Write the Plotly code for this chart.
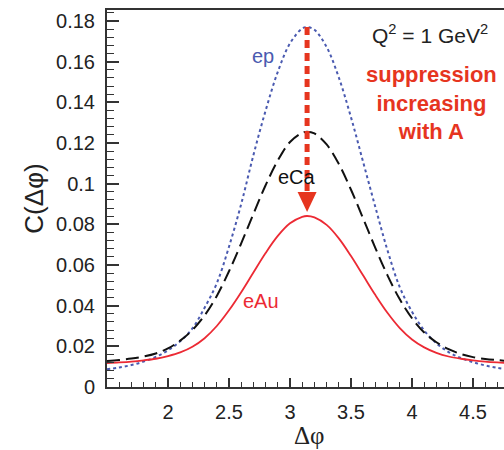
import plotly.graph_objects as go

# ---- data ----
dphi = [1.5, 1.6, 1.7, 1.8, 1.9, 2.0, 2.1, 2.2, 2.3, 2.4, 2.5, 2.6, 2.7, 2.8, 2.9, 3.0,
        3.1, 3.14, 3.2, 3.3, 3.4, 3.5, 3.6, 3.7, 3.8, 3.9, 4.0, 4.1, 4.2, 4.3, 4.4, 4.5,
        4.6, 4.7, 4.8]
c_ep = [0.0087, 0.0096, 0.0108, 0.0125, 0.0148, 0.0180, 0.0225, 0.0288, 0.0390, 0.0510,
        0.0690, 0.0900, 0.1140, 0.1359, 0.1550, 0.1690, 0.1763, 0.1770, 0.1757, 0.1672,
        0.1522, 0.1326, 0.1105, 0.0884, 0.0670, 0.0490, 0.0370, 0.0278, 0.0215, 0.0172,
        0.0143, 0.0122, 0.0106, 0.0094, 0.0086]
c_eca = [0.0128, 0.0133, 0.0140, 0.0150, 0.0165, 0.0190, 0.0228, 0.0280, 0.0352, 0.0448,
         0.0569, 0.0706, 0.0851, 0.0992, 0.1114, 0.1205, 0.1250, 0.1255, 0.1247, 0.1193,
         0.1097, 0.0970, 0.0828, 0.0683, 0.0548, 0.0431, 0.0338, 0.0268, 0.0220, 0.0186,
         0.0162, 0.0147, 0.0138, 0.0132, 0.0127]
c_eau = [0.0118, 0.0121, 0.0125, 0.0131, 0.0139, 0.0152, 0.0170, 0.0198, 0.0240, 0.0300,
         0.0377, 0.0466, 0.0563, 0.0659, 0.0743, 0.0805, 0.0837, 0.0841, 0.0834, 0.0797,
         0.0731, 0.0644, 0.0548, 0.0452, 0.0364, 0.0290, 0.0234, 0.0195, 0.0168, 0.0150,
         0.0139, 0.0131, 0.0125, 0.0121, 0.0118]

x_tickvals = [2, 2.5, 3, 3.5, 4, 4.5]
x_ticktext = ["2", "2.5", "3", "3.5", "4", "4.5"]
y_tickvals = [0, 0.02, 0.04, 0.06, 0.08, 0.1, 0.12, 0.14, 0.16, 0.18]
y_ticktext = ["0", "0.02", "0.04", "0.06", "0.08", "0.1", "0.12", "0.14", "0.16", "0.18"]

FONT = "Liberation Sans, Arial, sans-serif"
AX = "#333333"
BLUE = "#4a5ab0"
RED = "#ec2a34"
ARROW = "#e6351f"

fig = go.Figure()
fig.add_trace(go.Scatter(x=dphi, y=c_ep, mode="lines", name="ep",
                         line=dict(color=BLUE, width=2, dash="3px,3px", shape="spline")))
fig.add_trace(go.Scatter(x=dphi, y=c_eca, mode="lines", name="eCa",
                         line=dict(color="#111111", width=2, dash="13px,6px", shape="spline")))
fig.add_trace(go.Scatter(x=dphi, y=c_eau, mode="lines", name="eAu",
                         line=dict(color=RED, width=1.8, shape="spline")))

# arrow from ep peak down to the eAu peak
i_pk = c_ep.index(max(c_ep))
x_pk = dphi[i_pk]
y_top = max(c_ep)
y_tip = max(c_eau) + 0.002
fig.add_shape(type="line", x0=x_pk, x1=x_pk, y0=y_top, y1=y_tip + 0.008,
              line=dict(color=ARROW, width=5, dash="8px,5px"), layer="above")
fig.add_shape(type="path", xsizemode="pixel", ysizemode="pixel",
              xanchor=x_pk, yanchor=y_tip, path="M-9.5,20 L9.5,20 L0,0 Z",
              fillcolor=ARROW, line=dict(color=ARROW, width=0), layer="above")

ann = [
    dict(x=2.78, y=0.163, text="ep", font=dict(color=BLUE, size=20)),
    dict(x=3.057, y=0.1033, text="eCa", font=dict(color="#111111", size=20)),
    dict(x=2.762, y=0.0423, text="eAu", font=dict(color=RED, size=20)),
    dict(x=4.15, y=0.1735, text="Q<sup>2</sup> = 1 GeV<sup>2</sup>", font=dict(color="#222222", size=21)),
    dict(x=4.16, y=0.1397, text="<b>suppression<br>increasing<br>with A</b>",
         font=dict(color=ARROW, size=22)),
]
for a in ann:
    a.update(xref="x", yref="y", showarrow=False, xanchor="center", yanchor="middle")
    fig.add_annotation(**a)

fig.add_annotation(xref="paper", yref="paper", x=-0.186, y=0.5, text="C(Δφ)",
                   textangle=-90, showarrow=False, font=dict(size=26, color="#222222"),
                   xanchor="center", yanchor="middle")
fig.add_annotation(xref="paper", yref="paper", x=0.511, y=-0.128, text="Δφ",
                   showarrow=False, font=dict(size=25, color="#222222",
                                              family="Liberation Serif, Times New Roman, serif"),
                   xanchor="center", yanchor="middle")

fig.update_layout(
    width=504, height=450,
    margin=dict(l=107, r=0, t=10, b=63),
    plot_bgcolor="white", paper_bgcolor="white",
    showlegend=False,
    font=dict(family=FONT, size=20, color="#222222"),
)
fig.update_xaxes(range=[1.5, 4.754], showline=True, linecolor=AX, linewidth=2, mirror=True,
                 ticks="inside", ticklen=9, tickwidth=1.5, tickcolor=AX,
                 tickvals=x_tickvals, ticktext=x_ticktext, showgrid=False, zeroline=False,
                 ticklabelstandoff=6,
                 minor=dict(dtick=0.1, tick0=1.5, ticks="inside", ticklen=5, tickcolor=AX,
                            tickwidth=1, showgrid=False))
fig.update_yaxes(range=[0, 0.1854], showline=True, linecolor=AX, linewidth=2, mirror=False,
                 ticks="inside", ticklen=12, tickwidth=1.5, tickcolor=AX,
                 tickvals=y_tickvals, ticktext=y_ticktext, showgrid=False, zeroline=False,
                 ticklabelstandoff=6,
                 minor=dict(dtick=0.004, tick0=0, ticks="inside", ticklen=7, tickcolor=AX,
                            tickwidth=1, showgrid=False))

fig.write_html("out.html")
